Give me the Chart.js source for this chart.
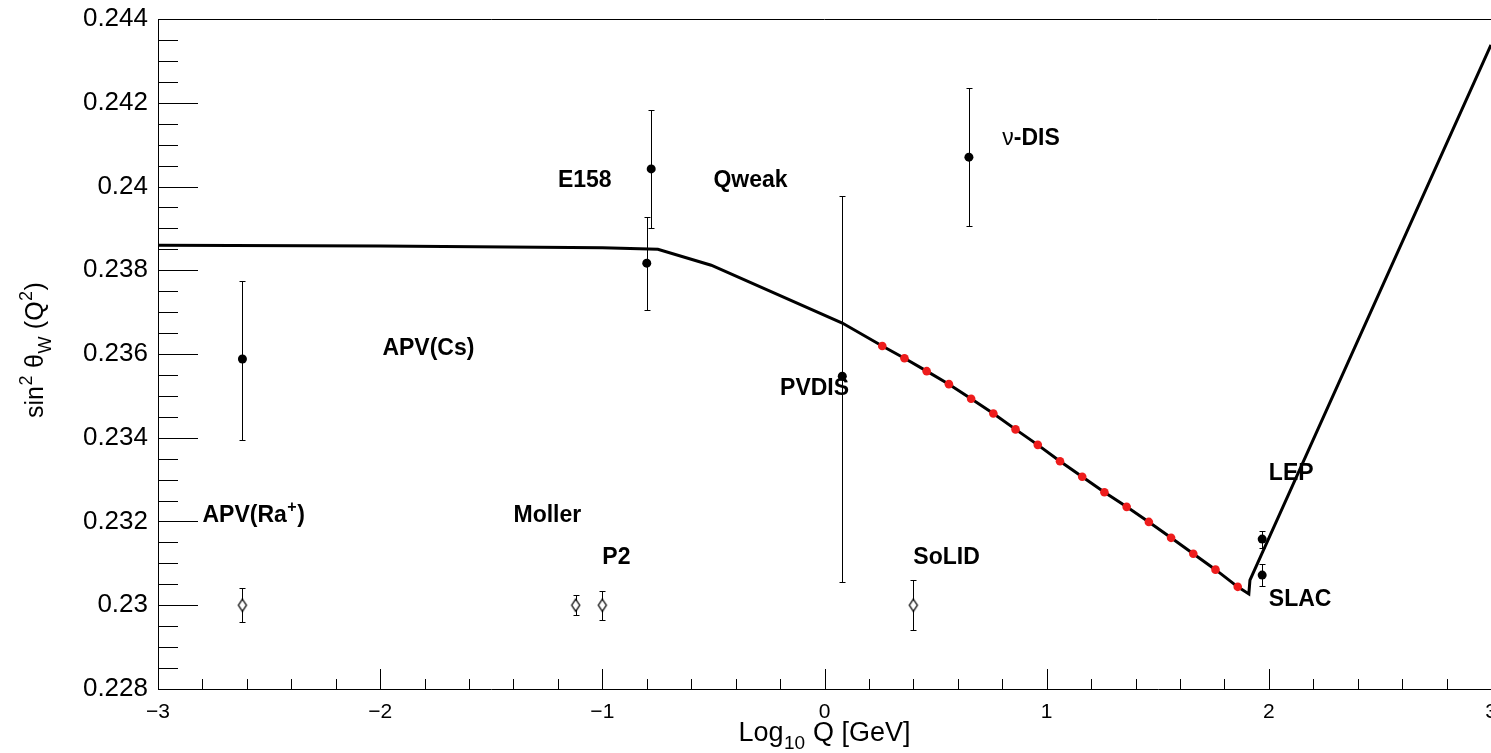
<!DOCTYPE html>
<html>
<head>
<meta charset="utf-8">
<script src="https://cdn.jsdelivr.net/npm/chart.js@4.4.1/dist/chart.umd.min.js"></script>
<style>
  body { margin: 0; background: #fff; }
  #wrap { width: 1491px; height: 753px; }
</style>
</head>
<body>
<div id="wrap"><canvas id="myChart"></canvas></div>
<script>
// running sin^2 theta_W curve (black line)
const curveLeftX = [-3.0, -2.0, -1.0, -0.75, -0.51, 0.08];
const curveLeftY = [0.23860, 0.23858, 0.23854, 0.23850, 0.23812, 0.23674];
const runX = [0.26, 0.36, 0.46, 0.56, 0.66, 0.76, 0.86, 0.96, 1.06, 1.16, 1.26, 1.36, 1.46, 1.56, 1.66, 1.76, 1.86];
const runY = [0.23619, 0.23590, 0.23559, 0.23528, 0.23493, 0.23458, 0.23420, 0.23383, 0.23344, 0.23307, 0.23270, 0.23235, 0.23199, 0.23161, 0.23123, 0.23085, 0.23044];
const curveRightX = [1.91, 1.915, 3.0];
const curveRightY = [0.23027, 0.23060, 0.24338];

// measurements: APV(Cs), E158, Qweak, PVDIS, nu-DIS, LEP, SLAC
const measX = [-2.62, -0.78, -0.80, 0.08, 0.65, 1.97, 1.97];
const measY = [0.23588, 0.24042, 0.23817, 0.23547, 0.24070, 0.23158, 0.23072];
const measErrUp = [0.00187, 0.00141, 0.00110, 0.00430, 0.00165, 0.00020, 0.00026];
const measErrDown = [0.00193, 0.00141, 0.00112, 0.00491, 0.00164, 0.00021, 0.00026];

// future experiments: APV(Ra+), Moller, P2, SoLID
const futX = [-2.62, -1.12, -1.00, 0.40];
const futY = [0.2300, 0.2300, 0.2300, 0.2300];
const futErr = [0.00041, 0.00024, 0.00035, 0.00060];

// text labels (ROOT-like latex)
const labelText = ['E158', 'Qweak', '#nu-DIS', 'APV(Cs)', 'PVDIS', 'APV(Ra^{+})', 'Moller', 'P2', 'SoLID', 'LEP', 'SLAC'];
const labelX = [-1.20, -0.50, 0.80, -1.99, -0.20, -2.80, -1.40, -1.00, 0.40, 2.00, 2.00];
const labelY = [0.24018, 0.24018, 0.24118, 0.23617, 0.23521, 0.23218, 0.23218, 0.23118, 0.23118, 0.23318, 0.23017];

const xTitle = 'Log_{10} Q [GeV]';
const yTitle = 'sin^{2} #theta_{W} (Q^{2})';

const FONT = '"Liberation Sans", Arial, Helvetica, sans-serif';
const greek = { nu: '\u03bd', theta: '\u03b8' };

function toPoints(xs, ys) {
  return xs.map((v, i) => ({ x: v, y: ys[i] }));
}

// tiny latex parser: ^{..}, _{..}, #greek
function parseLatex(str) {
  const parts = [];
  let i = 0;
  while (i < str.length) {
    const c = str[i];
    if ((c === '^' || c === '_') && str[i + 1] === '{') {
      const end = str.indexOf('}', i);
      parts.push({ t: str.slice(i + 2, end), m: c === '^' ? 'sup' : 'sub' });
      i = end + 1;
    } else if (c === '#') {
      const m = /^#([a-z]+)/.exec(str.slice(i));
      parts.push({ t: greek[m[1]], m: 'n', g: true });
      i += m[0].length;
    } else {
      let j = i;
      while (j < str.length && !'^_#'.includes(str[j])) j++;
      parts.push({ t: str.slice(i, j), m: 'n' });
      i = j;
    }
  }
  return parts;
}

function drawLatex(ctx, str, x, y, size, bold, align) {
  const parts = parseLatex(str);
  const fontOf = p => (bold && !p.g ? 'bold ' : '') + (p.m === 'n' ? size : Math.round(size * 0.7)) + 'px ' + FONT;
  let w = 0;
  parts.forEach(p => { ctx.font = fontOf(p); p.w = ctx.measureText(p.t).width + (p.m === 'n' ? 0 : 1); w += p.w; });
  let cx = align === 'center' ? x - w / 2 : x;
  ctx.textAlign = 'left';
  ctx.textBaseline = 'alphabetic';
  parts.forEach(p => {
    ctx.font = fontOf(p);
    const dy = p.m === 'sup' ? -size * 0.45 : (p.m === 'sub' ? size * 0.3 : 0);
    ctx.fillText(p.t, cx + (p.m === 'n' ? 0 : 0.5), y + dy);
    cx += p.w;
  });
}

// open diamond marker
function makeDiamond() {
  const c = document.createElement('canvas');
  c.width = 12; c.height = 16;
  const g = c.getContext('2d');
  g.beginPath();
  g.moveTo(6, 2); g.lineTo(10, 8); g.lineTo(6, 14); g.lineTo(2, 8);
  g.closePath();
  g.fillStyle = '#fff'; g.fill();
  g.strokeStyle = '#000'; g.lineWidth = 1.3; g.stroke();
  return c;
}

// error bars, drawn before the markers
const errorBars = {
  id: 'errorBars',
  beforeDatasetsDraw(chart) {
    const { ctx, scales: { x, y } } = chart;
    ctx.save();
    ctx.strokeStyle = '#000';
    ctx.lineWidth = 1;
    chart.data.datasets.forEach(ds => {
      if (!ds.errUp) return;
      ds.data.forEach((p, i) => {
        const px = Math.round(x.getPixelForValue(p.x)) + 0.5;
        const top = Math.round(y.getPixelForValue(p.y + ds.errUp[i])) + 0.5;
        const bot = Math.round(y.getPixelForValue(p.y - ds.errDown[i])) + 0.5;
        ctx.beginPath();
        ctx.moveTo(px, top); ctx.lineTo(px, bot);
        ctx.moveTo(px - 3, top); ctx.lineTo(px + 3, top);
        ctx.moveTo(px - 3, bot); ctx.lineTo(px + 3, bot);
        ctx.stroke();
      });
    });
    ctx.restore();
  }
};

// ROOT style frame: inward ticks, top line, axis titles, text labels
const rootFrame = {
  id: 'rootFrame',
  afterDraw(chart) {
    const { ctx, chartArea: a, scales: { x, y } } = chart;
    ctx.save();
    ctx.strokeStyle = '#000';
    ctx.lineWidth = 1;
    ctx.beginPath();
    ctx.moveTo(a.left, a.top + 0.5); ctx.lineTo(a.right, a.top + 0.5);
    const xs = x.ticks.map(t => t.value);
    xs.forEach((v, i) => {
      const px = Math.round(x.getPixelForValue(v)) + 0.5;
      ctx.moveTo(px, a.bottom); ctx.lineTo(px, a.bottom - 20);
      if (i < xs.length - 1) {
        for (let k = 1; k < 5; k++) {
          const mp = Math.round(x.getPixelForValue(v + k * (xs[i + 1] - v) / 5)) + 0.5;
          ctx.moveTo(mp, a.bottom); ctx.lineTo(mp, a.bottom - 10);
        }
      }
    });
    const ys = y.ticks.map(t => t.value);
    ys.forEach((v, i) => {
      const py = Math.round(y.getPixelForValue(v)) + 0.5;
      ctx.moveTo(a.left, py); ctx.lineTo(a.left + 40, py);
      if (i < ys.length - 1) {
        for (let k = 1; k < 4; k++) {
          const mp = Math.round(y.getPixelForValue(v + k * (ys[i + 1] - v) / 4)) + 0.5;
          ctx.moveTo(a.left, mp); ctx.lineTo(a.left + 20, mp);
        }
      }
    });
    ctx.stroke();

    ctx.fillStyle = '#000';
    // axis titles
    drawLatex(ctx, xTitle, (a.left + a.right) / 2, 741, 27, false, 'center');
    ctx.save();
    ctx.translate(43, 350);
    ctx.rotate(-Math.PI / 2);
    drawLatex(ctx, yTitle, 0, 0, 25, false, 'center');
    ctx.restore();

    // experiment labels
    labelText.forEach((t, i) => {
      const px = x.getPixelForValue(labelX[i]);
      const py = y.getPixelForValue(labelY[i]) + 23 * 0.36;
      drawLatex(ctx, t, px, py, 23, true, 'left');
    });
    ctx.restore();
  }
};

const ctx = document.getElementById('myChart').getContext('2d');
const chart = new Chart(ctx, {
  type: 'scatter',
  data: {
    datasets: [
      {
        label: 'future',
        data: toPoints(futX, futY),
        pointStyle: makeDiamond(),
        errUp: futErr,
        errDown: futErr,
        order: 0
      },
      {
        label: 'measurements',
        data: toPoints(measX, measY),
        pointRadius: 4.5,
        backgroundColor: '#000',
        borderColor: '#000',
        borderWidth: 0,
        errUp: measErrUp,
        errDown: measErrDown,
        order: 1
      },
      {
        label: 'projection',
        data: toPoints(runX, runY),
        pointRadius: 4.3,
        backgroundColor: '#ee1c1c',
        borderColor: '#ee1c1c',
        borderWidth: 0,
        order: 2
      },
      {
        label: 'running',
        data: toPoints([...curveLeftX, ...runX, ...curveRightX], [...curveLeftY, ...runY, ...curveRightY]),
        showLine: true,
        pointRadius: 0,
        borderColor: '#000',
        borderWidth: 3,
        fill: false,
        order: 3
      }
    ]
  },
  options: {
    responsive: true,
    maintainAspectRatio: false,
    animation: false,
    events: [],
    layout: { autoPadding: false, padding: { top: 19, left: 0, right: 0, bottom: 0 } },
    plugins: {
      legend: { display: false },
      tooltip: { enabled: false }
    },
    scales: {
      x: {
        type: 'linear',
        min: -3,
        max: 3,
        grid: { display: false, drawTicks: false },
        border: { display: true, color: '#000', width: 1 },
        ticks: {
          stepSize: 1,
          maxRotation: 0,
          padding: 11,
          color: '#000',
          font: { family: FONT, size: 21 },
          callback: v => (v < 0 ? '\u2212' + Math.abs(v) : String(v))
        },
        afterFit: s => { s.height = 64; s.paddingLeft = 0; s.paddingRight = 0; }
      },
      y: {
        type: 'linear',
        min: 0.228,
        max: 0.244,
        grid: { display: false, drawTicks: false },
        border: { display: true, color: '#000', width: 1 },
        ticks: {
          stepSize: 0.002,
          padding: 10,
          color: '#000',
          font: { family: FONT, size: 26 },
          callback: v => String(parseFloat(v.toFixed(3)))
        },
        afterFit: s => { s.width = 158; s.paddingTop = 0; s.paddingBottom = 0; }
      }
    }
  },
  plugins: [errorBars, rootFrame]
});
</script>
</body>
</html>
